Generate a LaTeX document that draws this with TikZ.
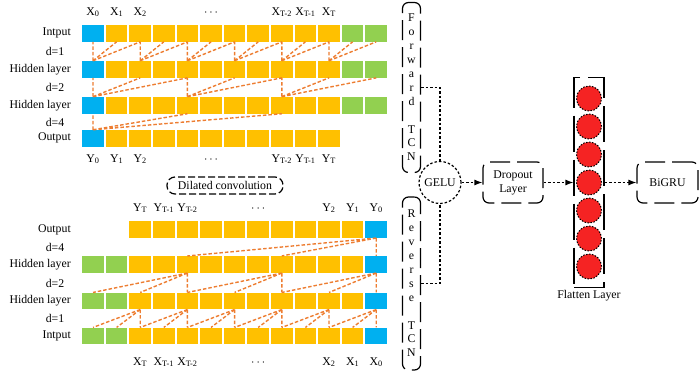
\documentclass[tikz,border=0pt]{standalone}
\usepackage{fontspec}
\setmainfont{Liberation Serif}
\usetikzlibrary{arrows.meta,positioning,calc}
\definecolor{cellblue}{RGB}{0,176,240}
\definecolor{cellyellow}{RGB}{255,192,0}
\definecolor{cellgreen}{RGB}{146,208,80}
\definecolor{linkorange}{RGB}{237,125,49}
\definecolor{neuronred}{RGB}{245,35,35}

\begin{document}
\begin{tikzpicture}[x=1pt, y=-1pt,
    every node/.style={font=\fontsize{11.8}{13.9}\selectfont, inner sep=1pt},
    cell/.style={minimum width=21.6pt, minimum height=16.7pt, inner sep=0pt},
    bcell/.style={cell, fill=cellblue},
    ycell/.style={cell, fill=cellyellow},
    gcell/.style={cell, fill=cellgreen},
    link/.style={draw=linkorange, line width=1.4pt, dash pattern=on 3.5pt off 2pt},
    flow/.style={line width=1.2pt, dash pattern=on 2.5pt off 2pt},
    tip/.style={-{Latex[length=8pt,width=6pt]}},
    dashbox/.style={draw, line width=1.2pt, rounded corners=6pt, dash pattern=on 20pt off 7pt, align=center, inner sep=0pt},
    tcn/.style={dashbox, minimum width=18pt},
    neuron/.style={circle, fill=neuronred, draw, line width=1pt, dash pattern=on 1.5pt off 1.5pt, minimum size=25pt, inner sep=0pt}
  ]
  \useasboundingbox (0,0) rectangle (700,372);

  % forward TCN cells
  \foreach \r/\yy in {ti/33.3, th/69.3, tg/105.2} {
    \node[bcell] (\r-0) at (93,\yy) {};
    \foreach \k in {1,...,10} \node[ycell] (\r-\k) at (93+23.6*\k,\yy) {};
    \foreach \k in {11,12} \node[gcell] (\r-\k) at (93+23.6*\k,\yy) {};
  }
  \node[bcell] (to-0) at (93,138.3) {};
  \foreach \k in {1,...,10} \node[ycell] (to-\k) at (93+23.6*\k,138.3) {};

  % reverse TCN cells
  \foreach \r/\yy in {bh/264.5, bg/301, bi/336} {
    \foreach \k in {0,1} \node[gcell] (\r-\k) at (93+23.6*\k,\yy) {};
    \foreach \k in {2,...,11} \node[ycell] (\r-\k) at (93+23.6*\k,\yy) {};
    \node[bcell] (\r-12) at (376.2,\yy) {};
  }
  \foreach \k in {2,...,11} \node[ycell] (bo-\k) at (93+23.6*\k,229.5) {};
  \node[bcell] (bo-12) at (376.2,229.5) {};

  % row names
  \foreach \n/\yy/\t in {a/33.3/Intput, b/69.3/Hidden layer, c/105.2/Hidden layer, d/138.3/Output,
                         e/229.5/Output, f/264.5/Hidden layer, g/301/Hidden layer, h/336/Intput}
    \node[anchor=east] (row-\n) at (72,\yy) {\t};
  \foreach \n/\yy/\t in {a/51.5/1, b/87.5/2, c/122/4, d/247/4, e/283/2, f/318.5/1}
    \node (dil-\n) at (55,\yy) {d=\t};

  % sequence labels
  \foreach \k/\t in {0/0, 1/1, 2/2, 8/T-2, 9/T-1, 10/T} {
    \node[anchor=base] (tx-\k) at (ti-\k.north |- 0,15) {X\textsubscript{\t}};
    \node[anchor=base] (ty-\k) at (to-\k.south |- 0,162) {Y\textsubscript{\t}};
  }
  \node[anchor=base] (tx-dots) at (ti-5.north |- 0,15) {$\cdots$};
  \node[anchor=base] (ty-dots) at (to-5.south |- 0,162) {$\cdots$};
  \foreach \k/\t in {2/T, 3/T-1, 4/T-2, 10/2, 11/1, 12/0} {
    \node[anchor=base] (by-\k) at (bo-\k.north |- 0,211) {Y\textsubscript{\t}};
    \node[anchor=base] (bx-\k) at (bi-\k.south |- 0,365) {X\textsubscript{\t}};
  }
  \node[anchor=base] (by-dots) at (bo-7.north |- 0,211) {$\cdots$};
  \node[anchor=base] (bx-dots) at (bi-7.south |- 0,365) {$\cdots$};

  \node[draw, line width=1.2pt, rounded corners=8pt, dash pattern=on 7pt off 3pt,
        minimum width=116pt, minimum height=17pt, inner sep=0pt] (dilconv) at (225,185.5) {Dilated convolution};

  % dilated links, forward
  \foreach \k [evaluate=\k as \a using int(\k+1), evaluate=\k as \b using int(\k+2)] in {0,2,...,10}
    \draw[link] (th-\k.north) -- (ti-\k.south) (th-\k.north) -- (ti-\a.south) (th-\k.north) -- (ti-\b.south);
  \foreach \k [evaluate=\k as \a using int(\k+2), evaluate=\k as \b using int(\k+4)] in {0,4,8}
    \draw[link] (tg-\k.north) -- (th-\k.south) (tg-\k.north) -- (th-\a.south) (tg-\k.north) -- (th-\b.south);
  \draw[link] (to-0.north) -- (tg-0.south) (to-0.north) -- (tg-4.south) (to-0.north) -- (tg-8.south);

  % dilated links, reverse
  \foreach \k [evaluate=\k as \a using int(\k-1), evaluate=\k as \b using int(\k-2)] in {2,4,...,12}
    \draw[link] (bg-\k.south) -- (bi-\k.north) (bg-\k.south) -- (bi-\a.north) (bg-\k.south) -- (bi-\b.north);
  \foreach \k [evaluate=\k as \a using int(\k-2), evaluate=\k as \b using int(\k-4)] in {4,8,12}
    \draw[link] (bh-\k.south) -- (bg-\k.north) (bh-\k.south) -- (bg-\a.north) (bh-\k.south) -- (bg-\b.north);
  \draw[link] (bo-12.south) -- (bh-12.north) (bo-12.south) -- (bh-8.north) (bo-12.south) -- (bh-4.north);

  % right part
  \node[tcn, minimum height=170pt] (ftcn) at (411.5,87.5) {F\\o\\r\\w\\a\\r\\d\\ \strut\\T\\C\\N};
  \node[tcn, minimum height=173pt] (rtcn) at (411.5,283.5) {R\\e\\v\\e\\r\\s\\e\\ \strut\\T\\C\\N};
  \node[circle, draw, line width=1.2pt, dash pattern=on 2.5pt off 2pt, minimum size=42pt, inner sep=0pt] (gelu) at (440,182.5) {GELU};
  \node[dashbox, minimum width=60pt, minimum height=41pt] (drop) at (513,182.5) {Dropout\\Layer};
  \node[draw, line width=1.2pt, dash pattern=on 36pt off 8pt, minimum width=30pt, minimum height=210pt] (flat) at (589,182.5) {};
  \foreach \k in {0,...,6} \node[neuron] (n-\k) at (589,98.5+28*\k) {};
  \node[below=1pt of flat] (flatlbl) {Flatten Layer};
  \node[dashbox, minimum width=61pt, minimum height=41pt] (bigru) at (667.5,182.5) {BiGRU};

  \draw[flow] (ftcn.east) -| (gelu.north);
  \draw[flow] (rtcn.east) -| (gelu.south);
  \draw[flow, tip] (gelu) -- (drop);
  \draw[flow, tip] (drop) -- (flat);
  \draw[flow, tip] (flat) -- (bigru);
\end{tikzpicture}
\end{document}
